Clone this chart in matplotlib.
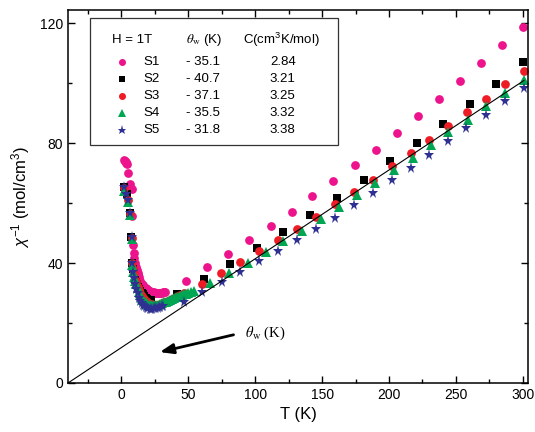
import matplotlib
matplotlib.use("Agg")
import matplotlib.pyplot as plt
from matplotlib.ticker import MultipleLocator
from matplotlib.patches import Rectangle

plt.rcParams['font.family'] = ['Liberation Sans', 'DejaVu Sans']
plt.rcParams['mathtext.fontset'] = 'custom'
plt.rcParams['mathtext.rm'] = 'Liberation Sans'
plt.rcParams['mathtext.it'] = 'Liberation Sans:italic'
plt.rcParams['mathtext.bf'] = 'Liberation Sans:bold'

# ---------------- data ----------------
s1_T = [2, 2.5, 3, 3.5, 4, 5, 6.5, 7.5, 8.2, 8.7, 9.2, 9.5, 10.2, 10.7, 11.4, 12, 12.6, 13.2, 14, 15, 16, 17, 18, 19, 20, 21, 22,
        23, 24, 25, 26, 27, 28, 29, 30, 31, 32, 32.8,
        48, 63.9, 80, 95.5, 111.5, 127.2, 142.8, 158.4, 174.4, 190.2, 205.7, 221.6, 237.5, 253, 268.7, 284.6, 300.2]
s1_y = [74.3, 74.0, 73.8, 73.5, 73.2, 70.1, 66.5, 64.9, 55.8, 46.0, 43.5, 41.6, 40.0, 38.8, 37.6, 36.6, 35.9, 35.4, 34.2, 33.2, 32.6, 32.1, 31.7, 31.3, 31.0, 30.7, 30.5,
        30.4, 30.3, 30.2, 30.1, 30.1, 30.1, 30.2, 30.2, 30.3, 30.4, 30.5,
        34.1, 38.6, 43.1, 47.8, 52.3, 57.2, 62.3, 67.3, 72.6, 77.9, 83.5, 89.1, 94.9, 100.8, 106.9, 112.9, 118.8]

s2_T = [2, 4, 6.7, 7.2, 8, 8.6, 9.2, 10, 10.8, 11.7, 12.4, 13, 14, 15, 16, 17, 18, 19, 20, 21, 22,
        41.5, 61.4, 81.3, 101.3, 121.1, 141, 161, 181, 201, 221, 240.5, 260.4, 280.3, 300.5]
s2_y = [65.4, 63.0, 56.6, 48.6, 39.9, 38.0, 36.6, 34.5, 33.8, 33.2, 32.2, 31.5, 30.8, 30.2, 29.6, 29.0, 28.5, 28.0, 27.7, 27.5, 27.7,
        29.7, 34.6, 39.7, 44.9, 50.3, 56.0, 61.8, 67.7, 74.0, 80.1, 86.4, 93.0, 99.7, 107.0]

s3_T = [2, 4.5, 6.5, 7.5, 8.2, 8.9, 9.5, 10.5, 11.2, 12, 13, 14, 15, 16, 17, 18, 19, 20, 21, 22, 23, 24.4, 25.5, 27, 28.5,
        30, 31.5, 33, 34.5, 36, 37.5, 39, 40.5, 42, 44, 46.5,
        60.2, 74.4, 88.8, 103, 117.4, 131.6, 145.5, 159.7, 173.9, 187.8, 202, 216.2, 230.1, 244.3, 258.4, 272.8, 286.6, 300.7]
s3_y = [65.0, 61.0, 56.5, 48.5, 40.0, 38.2, 36.6, 34.0, 33.0, 32.0, 31.0, 30.0, 29.2, 28.5, 28.0, 27.5, 27.1, 26.8, 26.5, 26.3, 26.1, 26.0, 26.0, 26.2, 26.4,
        26.6, 26.9, 27.2, 27.5, 27.8, 28.1, 28.4, 28.7, 29.0, 29.4, 29.9,
        33.2, 36.8, 40.3, 43.9, 47.7, 51.5, 55.4, 59.6, 63.7, 67.9, 72.3, 76.7, 81.2, 85.7, 90.3, 94.9, 99.9, 104.3]

s4_T = [2, 4.5, 6.5, 7.5, 8.2, 8.9, 9.5, 10.2, 11, 12, 13, 14, 15, 16, 17, 18, 19, 20, 21, 22, 23, 24.5, 26, 27.5, 29, 30.5,
        32, 33.5, 35, 36.5, 38, 39.5, 41, 42.5, 44, 45.5, 47, 48.5, 50, 52, 54,
        66.4, 80.6, 94.5, 108.2, 121.1, 135.3, 149, 162.9, 176.4, 189.6, 204, 218.1, 231.3, 244.3, 259.2, 272.8, 286.6, 300.7]
s4_y = [64.0, 60.5, 56.0, 48.0, 39.5, 37.2, 35.5, 34.2, 33.0, 31.7, 30.5, 29.4, 28.5, 27.8, 27.3, 26.9, 26.5, 26.2, 26.0, 25.9, 25.8, 25.9, 26.0, 26.2, 26.5, 26.7,
        27.0, 27.2, 27.5, 27.7, 28.0, 28.3, 28.6, 28.8, 29.1, 29.3, 29.6, 29.8, 30.1, 30.3, 30.6,
        33.4, 36.8, 40.1, 43.8, 47.3, 50.8, 54.7, 58.6, 62.7, 66.8, 71.0, 75.1, 79.3, 83.8, 87.9, 92.3, 96.8, 101.2]

s5_T = [2, 3, 5, 6.2, 7.5, 8.2, 8.9, 9.5, 10.2, 11, 12, 13, 14, 15, 16, 17, 18, 19, 20, 21, 22, 23, 24, 25, 26, 27, 28, 29, 30, 31,
        46.5, 60.2, 75.1, 88.8, 103.2, 117.4, 131.6, 145.5, 159.7, 173.9, 187.8, 202, 216.2, 230.1, 243.8, 258, 272.4, 286.6, 300.7]
s5_y = [65.5, 63.0, 61.0, 56.6, 48.8, 40.0, 37.0, 35.0, 33.2, 31.5, 29.9, 28.5, 27.5, 26.8, 26.1, 25.6, 25.3, 25.0, 24.9, 24.8, 24.8, 24.8, 24.9, 25.0, 25.1, 25.2, 25.3, 25.5, 25.6, 25.8,
        27.1, 30.4, 33.8, 37.1, 40.7, 44.1, 47.7, 51.4, 55.2, 59.3, 63.4, 67.7, 71.8, 76.2, 80.7, 85.1, 89.6, 94.0, 98.6]

fit_T = [-40, 301]
fit_y = [0, 101]

names = ['S1', 'S2', 'S3', 'S4', 'S5']
theta_w = ['- 35.1', '- 40.7', '- 37.1', '- 35.5', '- 31.8']
curie_C = ['2.84', '3.21', '3.25', '3.32', '3.38']

xticks = [0, 50, 100, 150, 200, 250, 300]
yticks = [0, 40, 80, 120]

# ---------------- styles ----------------
colors = ['#EC138C', '#000000', '#EE1C24', '#00A651', '#2E3192']
markers = ['o', 's', 'o', '^', '*']
msizes = [6.3, 5.4, 6.3, 6.6, 8.2]

fig = plt.figure(figsize=(5.35, 4.32), dpi=100)
ax = fig.add_axes([68/535, 1-383/432, 460/535, 373/432])

series = [(s1_T, s1_y), (s2_T, s2_y), (s3_T, s3_y), (s4_T, s4_y), (s5_T, s5_y)]
for (T, y), c, m, ms in zip(series, colors, markers, msizes):
    ax.plot(T, y, linestyle='none', marker=m, color=c, markersize=ms, markeredgewidth=0)

ax.plot(fit_T, fit_y, color='black', lw=0.8)

ax.set_xlim(-40, 304)
ax.set_ylim(0, 124.5)
ax.set_xticks(xticks)
ax.set_yticks(yticks)
ax.xaxis.set_minor_locator(MultipleLocator(25))
ax.yaxis.set_minor_locator(MultipleLocator(20))
ax.tick_params(which='both', direction='in', top=True, right=True, labelsize=10, width=1)
ax.tick_params(which='major', length=5)
ax.tick_params(which='minor', length=3)
for sp in ax.spines.values():
    sp.set_linewidth(1.1)

ax.set_xlabel('T (K)', fontsize=12, labelpad=4)
ax.set_ylabel(r'$\chi^{-1}$ (mol/cm$^3$)', fontsize=12, labelpad=6)

# arrow with label
ax.annotate('', xy=(26.6, 10.1), xytext=(85.8, 16.3),
            arrowprops=dict(arrowstyle='-|>,head_length=0.8,head_width=0.3', color='black', lw=2))
ax.text(92.5, 16.7, r'$\theta_{\rm w}$ (K)', fontsize=10.5, va='center', ha='left',
        family='Liberation Serif', math_fontfamily='stix')

# legend table
box = Rectangle((0.048, 0.638), 0.587 - 0.048, 0.9786 - 0.638, transform=ax.transAxes,
                fill=False, edgecolor='#333333', lw=0.9)
ax.add_patch(box)
fs = 9.5
hy = 0.9196
ax.text(0.0957, hy, 'H = 1T', transform=ax.transAxes, fontsize=fs, va='center', ha='left')
ax.text(0.2565, hy, r'$\theta_{\rm w}$ (K)', transform=ax.transAxes, fontsize=fs, va='center', ha='left',
        math_fontfamily='stix')
ax.text(0.380, hy, r'C(cm$^3$K/mol)', transform=ax.transAxes, fontsize=fs, va='center', ha='left')
rows = [0.861, 0.814, 0.769, 0.723, 0.678]
for ry, n, tw, cc, c, m, ms in zip(rows, names, theta_w, curie_C, colors, markers, msizes):
    ax.plot([0.117], [ry], transform=ax.transAxes, linestyle='none', marker=m, color=c,
            markersize=ms * 0.8, markeredgewidth=0)
    ax.text(0.163, ry, n, transform=ax.transAxes, fontsize=fs, va='center', ha='left')
    ax.text(0.2565, ry, tw, transform=ax.transAxes, fontsize=fs, va='center', ha='left')
    ax.text(0.467, ry, cc, transform=ax.transAxes, fontsize=fs, va='center', ha='center')

fig.savefig('out.png', dpi=100)
